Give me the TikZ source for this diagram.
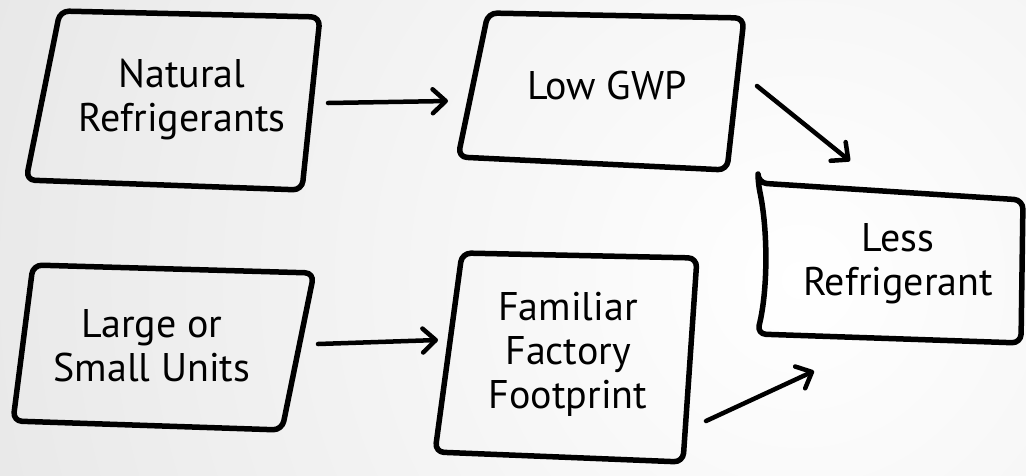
\documentclass[tikz,border=0pt]{standalone}
\usepackage{fontspec}
\setmainfont{PT Sans}
\usetikzlibrary{arrows.meta}
\tikzset{
  box/.style={draw=black, line width=5.5pt, rounded corners=9pt, line join=round, line cap=round},
  lbl/.style={align=center, font=\fontsize{40}{44}\selectfont, text=black, inner sep=0pt},
  conn/.style={draw=black, line width=4.5pt, line cap=round, -{Straight Barb[length=13pt,width=24pt,line cap=round,line join=round]}}
}
\begin{document}
\begin{tikzpicture}[x=1pt,y=-1pt]
\useasboundingbox (0,0) rectangle (1026,475);
\begin{scope}
\clip (0,0) rectangle (1026,475);
\fill[black!10] (0,0) rectangle (1026,475);
\shade[inner color=white, outer color=black!10] (800,280) circle (950);
\end{scope}
% boxes
\draw[box] (60,11) -- (320,17) -- (302,190) -- (26,180) -- cycle;
\draw[box] (488,13) -- (744,18) -- (727,170) -- (458,157) -- cycle;
\draw[box] (758,183) -- (1023,200) -- (1021,343) -- (757,334) .. controls (768,290) and (768,230) .. cycle;
\draw[box] (33,265) -- (314,273) -- (282,430) -- (13,421) -- cycle;
\draw[box] (462,253) -- (697,258) -- (683,462) -- (435,452) -- cycle;
% labels
\node[lbl] (n1) at (182,100) {Natural\\Refrigerants};
\node[lbl] (n2) at (607,85) {Low GWP};
\node[lbl] (n3) at (898,264) {Less\\Refrigerant};
\node[lbl] (n4) at (152,346) {Large or\\Small Units};
\node[lbl] (n5) at (568,354) {Familiar\\Factory\\Footprint};
% connector ends
\coordinate (a1s) at (328,103);
\coordinate (a1e) at (448,101);
\coordinate (a2s) at (757,86);
\coordinate (a2e) at (850,161);
\coordinate (a3s) at (318,344);
\coordinate (a3e) at (438,340);
\coordinate (a4s) at (706,421);
\coordinate (a4e) at (814,371);
\draw[conn] (a1s) -- (a1e);
\draw[conn] (a2s) -- (a2e);
\draw[conn] (a3s) -- (a3e);
\draw[conn] (a4s) -- (a4e);
\end{tikzpicture}
\end{document}
